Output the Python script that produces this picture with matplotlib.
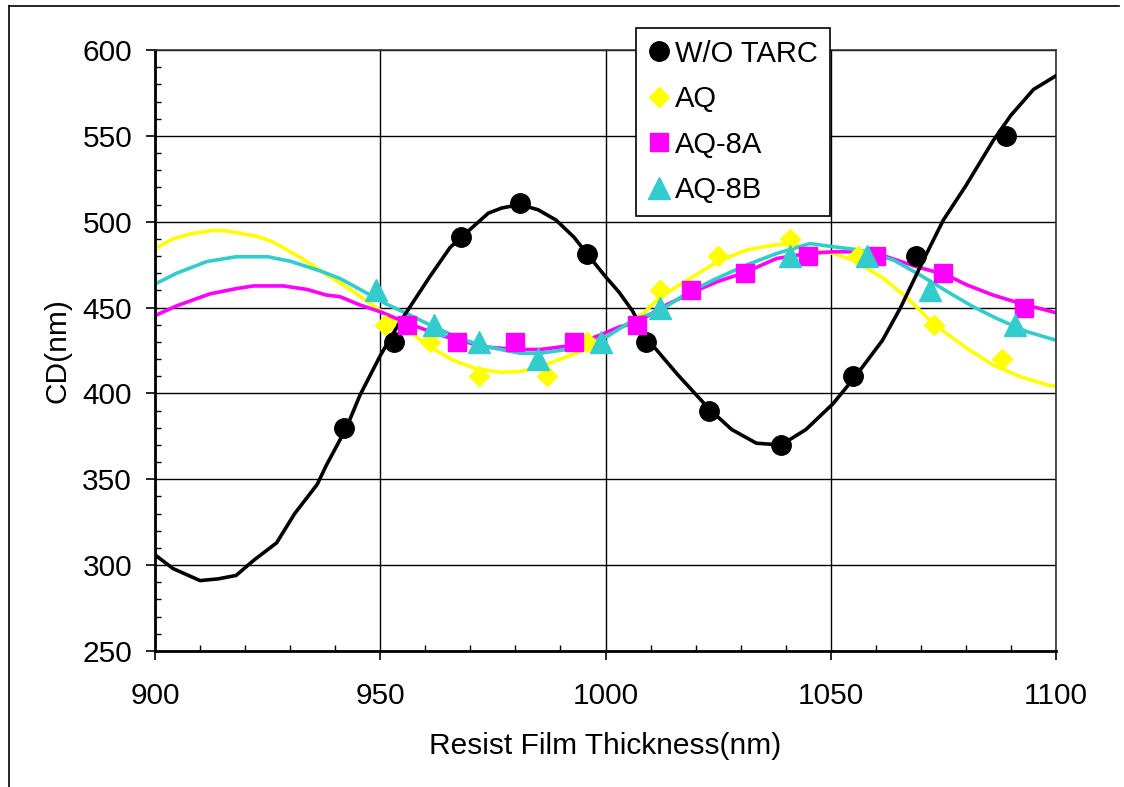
import matplotlib
matplotlib.use("Agg")
import matplotlib.pyplot as plt
from matplotlib.lines import Line2D
from matplotlib.ticker import MultipleLocator

# ---- data ----
wo_x = [942, 953, 968, 981, 996, 1009, 1023, 1039, 1055, 1069, 1089]
wo_y = [380, 430, 491, 511, 481, 430, 390, 370, 410, 480, 550]

aq_x = [951, 961, 972, 987, 996, 1012, 1025, 1041, 1056, 1073, 1088]
aq_y = [440, 430, 410, 410, 430, 460, 480, 490, 480, 440, 420]

aq8a_x = [956, 967, 980, 993, 1007, 1019, 1031, 1045, 1060, 1075, 1093]
aq8a_y = [440, 430, 430, 430, 440, 460, 470, 480, 480, 470, 450]

aq8b_x = [949, 962, 972, 985, 999, 1012, 1041, 1058, 1072, 1091]
aq8b_y = [460, 440, 430, 420, 430, 450, 480, 480, 460, 440]

# fitted curves
wo_fit_x = [900, 904, 910, 914, 918, 922, 927, 931, 936, 938, 942.5, 945.5, 950, 954, 958,
            961, 965.5, 971, 974, 977, 981, 985, 989, 993, 996, 1000, 1003, 1006, 1009.5,
            1016, 1023, 1028, 1033.5, 1039, 1044.5, 1050.5, 1055.5, 1061.5, 1065.5, 1071,
            1075, 1080, 1086, 1090, 1095, 1100]
wo_fit_y = [306, 298, 291, 292, 294, 303, 313, 330, 347, 358, 380, 399, 422, 440, 456,
            468, 485, 498, 505, 508, 510, 507, 501, 491, 481, 468, 459, 448, 431,
            411, 391, 379, 371, 370, 379, 394, 410, 431, 450, 480,
            501, 521, 547, 562, 577, 585]

aq_fit_x = [900, 904, 908, 913, 916, 922.6, 926, 932, 938, 944, 948.5, 953, 957, 961, 966,
            971, 976.6, 981, 985.5, 990, 995, 999, 1002.5, 1008.4, 1012, 1018.8, 1025,
            1031.3, 1037.2, 1041, 1045.4, 1050.6, 1055, 1061.7, 1066.8, 1073, 1080.2,
            1086, 1092, 1098, 1100]
aq_fit_y = [484.5, 490, 493, 495, 494.6, 491.5, 488.4, 479.6, 469.5, 459.3, 451, 442.8, 435,
            427.2, 419.5, 414.6, 412.3, 412.7, 415.5, 420, 425, 433, 437, 446.6, 456, 467,
            477, 483.5, 486.4, 487, 483.5, 481.5, 477.6, 467, 456, 440, 426.3, 416.6,
            409.8, 405, 404]

aq8a_fit_x = [900, 904.8, 912.2, 918, 921.8, 928.5, 933.7, 938, 941, 945.5, 950, 956, 961.8,
              967, 974.4, 980.3, 985.5, 992.9, 998.8, 1003.2, 1007, 1012, 1018.8, 1024.7,
              1031, 1038, 1045, 1050.6, 1056.5, 1062.4, 1069, 1075.7, 1080.2, 1086, 1092,
              1100]
aq8a_fit_y = [445.3, 451, 458, 461, 462.6, 462.6, 460.6, 457.3, 456.4, 451.5, 447.6, 441,
              435.3, 431, 426.8, 425.6, 425.6, 428, 434, 438.9, 441, 449.6, 458.3, 465,
              470.5, 478.6, 481.5, 482.5, 482.5, 479.6, 473.8, 469, 463.2, 457.3, 452.5,
              447]

aq8b_fit_x = [900, 904.8, 911.5, 918, 925, 930, 936.6, 941, 945.5, 951.4, 955.8, 961.8,
              967.7, 973.6, 981, 985.5, 991.4, 1000.3, 1006.2, 1012, 1018, 1024.7, 1031.3,
              1038, 1045.4, 1050.6, 1056.5, 1063.9, 1069.8, 1076.5, 1081.6, 1086.8,
              1093.5, 1100]
aq8b_fit_y = [463.7, 470, 476.8, 479.6, 479.6, 477, 471.4, 467, 460.6, 452, 446.6, 438.9,
              432, 427.2, 423.4, 423.4, 425.6, 433, 442.8, 448, 458.3, 467, 474.8, 481.5,
              487.3, 485.4, 483.5, 477.7, 469, 458.3, 450.5, 443.7, 436, 431]

labels = ["W/O TARC", "AQ", "AQ-8A", "AQ-8B"]
x_ticks = [900, 950, 1000, 1050, 1100]
y_ticks = [250, 300, 350, 400, 450, 500, 550, 600]

# ---- style ----
plt.rcParams['font.family'] = ['Liberation Sans', 'DejaVu Sans']
FS = 21.5

fig = plt.figure(figsize=(11.24, 7.87), dpi=100)
ax = fig.add_axes([155/1124, 1 - 651/787, (1056-155)/1124, (651-50)/787])

c_black, c_yel, c_mag, c_cyan = "#000000", "#FFFF00", "#FF00FF", "#33CCCC"

LW = 2.6
ax.plot(wo_fit_x, wo_fit_y, color=c_black, lw=LW, zorder=3)
ax.plot(aq_fit_x, aq_fit_y, color=c_yel, lw=LW, zorder=2)
ax.plot(aq8a_fit_x, aq8a_fit_y, color=c_mag, lw=LW, zorder=2)
ax.plot(aq8b_fit_x, aq8b_fit_y, color=c_cyan, lw=LW, zorder=2)

ax.plot(wo_x, wo_y, 'o', color=c_black, ms=14, mec=c_black, label=labels[0], zorder=4)
ax.plot(aq_x, aq_y, 'D', color=c_yel, ms=10.5, mec=c_yel, label=labels[1], zorder=4)
ax.plot(aq8a_x, aq8a_y, 's', color=c_mag, ms=13.5, mec=c_mag, label=labels[2], zorder=4)
ax.plot(aq8b_x, aq8b_y, '^', color=c_cyan, ms=15.5, mec=c_cyan, label=labels[3], zorder=4)

ax.set_xlim(900, 1100)
ax.set_ylim(250, 600)
ax.set_xticks(x_ticks)
ax.set_yticks(y_ticks)
ax.xaxis.set_minor_locator(MultipleLocator(10))
ax.yaxis.set_minor_locator(MultipleLocator(10))
ax.tick_params(which='major', direction='out', length=6.5, width=1.2, labelsize=FS, color='black')
ax.tick_params(axis='x', which='major', pad=16)
ax.tick_params(axis='y', which='major', pad=10)
ax.tick_params(which='minor', direction='in', length=4.3, width=1.0, color='black')
ax.grid(True, which='major', color='black', lw=1.0, zorder=1)
ax.set_axisbelow(True)

for s in ['left', 'bottom']:
    ax.spines[s].set_linewidth(2.0)
for s in ['top', 'right']:
    ax.spines[s].set_linewidth(1.2)
    ax.spines[s].set_color('#333333')

ax.set_xlabel("Resist Film Thickness(nm)", fontsize=FS, labelpad=16)
ax.set_ylabel("CD(nm)", fontsize=FS, labelpad=8)

leg = ax.legend(loc='upper left', bbox_to_anchor=(636/1124, 1 - 28/787),
                bbox_transform=fig.transFigure, fontsize=21, frameon=True,
                fancybox=False, edgecolor='black', framealpha=1.0,
                borderpad=0.4, labelspacing=0.6, handlelength=0.8,
                handletextpad=0.15, borderaxespad=0.0)
leg.get_frame().set_linewidth(1.2)
leg.set_zorder(10)

# outer frame (left and top edges visible)
fig.add_artist(Line2D([9/1124, 9/1124], [0, 1 - 6/787], color='black', lw=1.2,
                      transform=fig.transFigure))
fig.add_artist(Line2D([9/1124, 1119/1124], [1 - 6/787, 1 - 6/787], color='black', lw=1.2,
                      transform=fig.transFigure))

fig.savefig("out.png", dpi=100)
